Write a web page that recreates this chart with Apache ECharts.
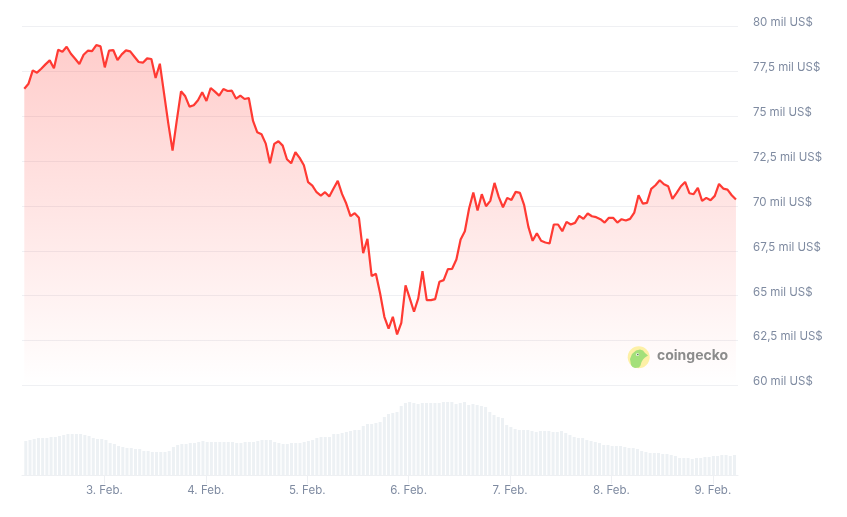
<!DOCTYPE html>
<html><head><meta charset="utf-8">
<style>html,body{margin:0;padding:0;background:#fff}#c{width:847px;height:517px}</style>
<script src="https://cdn.jsdelivr.net/npm/echarts@6/dist/echarts.min.js"></script>
</head><body><div id="c"></div>
<script>
const startTime = Date.UTC(2026,1,2,5,24);
const hourMs = 3600000;
const stepMs = 59.9*60000;
const prices = [76531,76809,77551,77422,77644,77885,78108,77663,78701,78590,78868,78479,78201,77904,78423,78646,78627,78961,78887,77718,78646,78683,78126,78442,78664,78609,78312,78015,77978,78219,78182,77125,77922,76253,74583,73081,74769,76383,76104,75529,75604,75882,76327,75845,76568,76364,76142,76513,76401,76420,75975,76142,75956,76012,74732,74101,73990,73470,72376,73452,73600,73359,72599,72376,72988,72673,72265,71319,71133,70762,70577,70762,70521,70966,71393,70669,70131,69426,69593,69334,67367,68165,66087,66217,65123,63824,63157,63824,62841,63490,65568,64845,64103,64845,66366,64752,64752,64808,65772,65865,66477,66496,67015,68128,68592,69853,70744,69742,70651,69983,70280,71281,70502,69927,70447,70335,70781,70725,70039,68833,68054,68480,68054,67961,67905,68963,68963,68592,69111,68963,69055,69445,69278,69575,69426,69371,69260,69074,69334,69334,69074,69260,69185,69278,69631,70595,70131,70168,70948,71152,71430,71207,71096,70391,70725,71096,71337,70706,70651,71003,70280,70447,70317,70558,71226,70966,70910,70595,70354];
const volumes = [51,52.5,54,55.5,55.5,55.5,57,57,58.5,60,61.5,61.5,61.5,61.5,60,58.5,55.5,54,54,52.5,48,46.5,43.5,42,40.5,40.5,39,39,36,36,34.5,34.5,34.5,34.5,36,42,45,46.5,46.5,48,48,49.5,51,49.5,49.5,49.5,49.5,49.5,49.5,49.5,48,48,49.5,49.5,49.5,51,52.5,52.5,52.5,49.5,48,46.5,46.5,48,48,48,49.5,51,52.5,55.5,57,57,57,61.5,61.5,63,64.5,66,67.5,67.5,73.5,76.5,76.5,78,79.5,87,91.5,93,94.5,103.5,108,109.5,108,106.5,108,108,108,108,108,109.5,109.5,109.5,106.5,108,109.5,105,106.5,105,103.5,102,94.5,90,87,85.5,75,72,69,67.5,67.5,67.5,66,64.5,66,66,66,64.5,64.5,66,63,60,57,55.5,55.5,52.5,51,49.5,48,45,45,43.5,43.5,43.5,42,40.5,40.5,39,36,34.5,33,33,33,31.5,31.5,30,28.5,25.5,25.5,25.5,24,25.5,25.5,27,27,28.5,28.5,30,30,28.5,30];
const priceTicks = ['60 mil US$','62,5 mil US$','65 mil US$','67,5 mil US$','70 mil US$','72,5 mil US$','75 mil US$','77,5 mil US$','80 mil US$'];
const toSeries = arr => arr.map((v,i)=>[startTime+i*stepMs,v]);
const xMin = startTime - 0.54*hourMs, xMax = Date.UTC(2026,1,9,5,36);
const chart = echarts.init(document.getElementById('c'),null,{renderer:'canvas'});
const font = 'Inter, "Noto Sans", sans-serif';
chart.setOption({
  animation:false, useUTC:true, backgroundColor:'#fff',
  grid:[{left:22,right:109,top:26.4,height:359},{left:22,right:109,top:386,height:89}],
  xAxis:[
    {type:'time',gridIndex:0,min:xMin,max:xMax,show:false},
    {type:'time',gridIndex:1,min:xMin,max:xMax,minInterval:24*hourMs,maxInterval:24*hourMs,
      axisLine:{show:true,lineStyle:{color:'#eef0f3',width:1}},
      axisTick:{show:true,length:9,lineStyle:{color:'#eef0f3',width:1}},
      splitLine:{show:false},
      axisLabel:{show:true,color:'#7f8ba1',fontFamily:font,fontSize:11.5,margin:10,hideOverlap:false,showMinLabel:false,showMaxLabel:false,
        formatter:v=>{const d=new Date(v);return d.getUTCDate()+'. Feb.';}}}
  ],
  yAxis:[
    {type:'value',gridIndex:0,position:'right',min:60000,max:80000,interval:2500,
      axisLine:{show:false},axisTick:{show:false},
      splitLine:{show:true,lineStyle:{color:'#eff0f3',width:1}},
      axisLabel:{color:'#7f8ba1',fontFamily:font,fontSize:11.5,margin:15,verticalAlign:'bottom',lineHeight:7,
        formatter:v=>priceTicks[Math.round((v-60000)/2500)]}},
    {type:'value',gridIndex:1,min:0,max:133.5,show:false}
  ],
  series:[
    {type:'line',xAxisIndex:0,yAxisIndex:0,data:toSeries(prices),showSymbol:false,smooth:false,
      lineStyle:{color:'#ff3a33',width:2.2},
      areaStyle:{origin:'start',color:new echarts.graphic.LinearGradient(0,0,0,1,[{offset:0,color:'rgba(255,58,51,0.36)'},{offset:1,color:'rgba(255,58,51,0)'}])}},
    {type:'bar',xAxisIndex:1,yAxisIndex:1,data:toSeries(volumes),barWidth:3,itemStyle:{color:'#edf1f4'}}
  ],
  graphic:[
    {type:'circle',shape:{cx:638.7,cy:357.3,r:11},style:{fill:'#fdf0a6'},z:10},
    {type:'polygon',shape:{points:[[631,365],[630,359],[632,354],[636,350.5],[640,349.5],[643,350.5],[645,353],[648,355.5],[645,357.5],[643,359.5],[641.5,362],[640.5,365.5],[639,367.5],[635,368],[632.5,367]]},style:{fill:'#a3e07a'},z:11},
    {type:'circle',shape:{cx:637.5,cy:354.5,r:1.6},style:{fill:'#e8f2df'},z:12},
    {type:'circle',shape:{cx:637.8,cy:354.5,r:0.8},style:{fill:'#5b6b55'},z:13},
    {type:'text',left:657,top:349,style:{text:'coingecko',fill:'#8c8c8c',font:'bold 14px '+font},z:10}
  ]
});
</script></body></html>
